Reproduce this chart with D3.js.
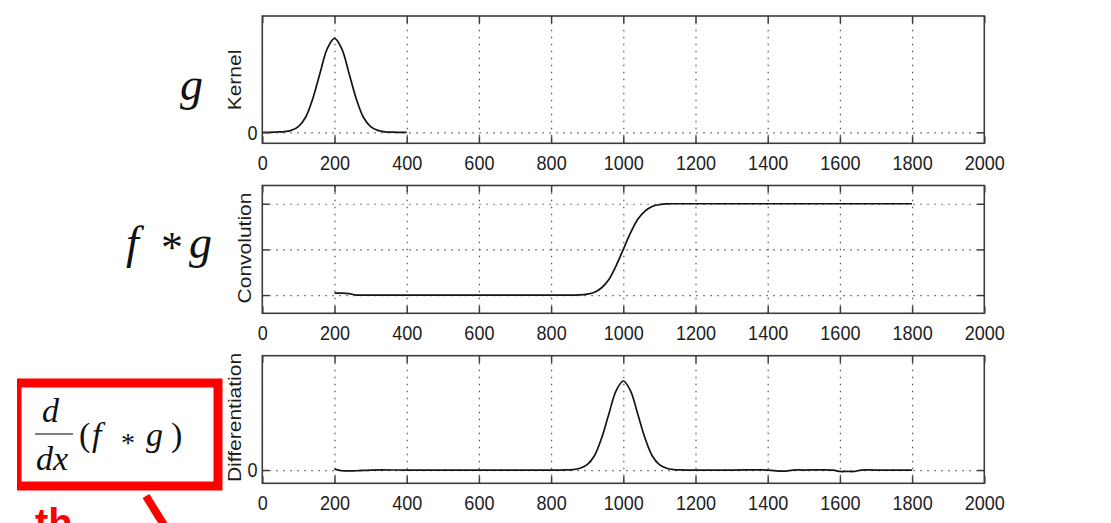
<!DOCTYPE html>
<html>
<head>
<meta charset="utf-8">
<script src="https://cdn.jsdelivr.net/npm/d3@7"></script>
<style>
  html, body { margin: 0; padding: 0; background: #fff; }
  svg { display: block; }
  .tick text { transform-box: fill-box; transform-origin: center; transform: scaleX(0.86); }
</style>
</head>
<body>
<svg id="chart" width="1111" height="523"></svg>
<script>
// ---------- data ----------
const xTicks = [0, 200, 400, 600, 800, 1000, 1200, 1400, 1600, 1800, 2000];

const kernelX = [0, 20, 40, 60, 80, 100, 120, 140, 160, 180, 200, 220, 240, 260, 280, 300, 320, 340, 360, 380, 400];
const kernelY = [0, 0, 0.003, 0.006, 0.02, 0.06, 0.16, 0.36, 0.63, 0.89, 1, 0.89, 0.63, 0.36, 0.16, 0.06, 0.02, 0.005, 0.001, 0, 0];

const convX = [200, 220, 240, 260, 300, 400, 500, 600, 700, 800, 820, 840, 860, 880, 900, 920, 940, 960, 980, 1000,
               1020, 1040, 1060, 1080, 1100, 1120, 1140, 1160, 1180, 1200, 1300, 1400, 1500, 1600, 1700, 1800];
const convY = [0.02, 0.02, 0.015, 0, 0, 0, 0, 0, 0, 0, 0, 0, 0, 0.002, 0.01, 0.03, 0.08, 0.17, 0.32, 0.5,
               0.68, 0.83, 0.92, 0.97, 0.99, 0.998, 1, 1, 1, 1, 1, 1, 1, 1, 1, 1];

const diffX = [200, 220, 260, 300, 400, 500, 600, 700, 800, 820, 840, 860, 880, 900, 920, 940, 960, 980, 1000,
               1020, 1040, 1060, 1080, 1100, 1120, 1140, 1160, 1180, 1200, 1300, 1400, 1430, 1450, 1470, 1500,
               1580, 1600, 1620, 1640, 1660, 1700, 1800];
const diffY = [0.01, -0.008, -0.008, 0, 0, 0, 0, 0, 0, 0, 0.001, 0.005, 0.02, 0.06, 0.16, 0.36, 0.63, 0.89, 1,
               0.89, 0.63, 0.36, 0.16, 0.06, 0.02, 0.005, 0.001, 0, 0, 0, 0, -0.012, -0.012, 0, 0,
               0, -0.016, -0.016, -0.016, 0, 0, 0];

const convYTicks = [0, 0.5, 1];
const zeroTick = [0];

// ---------- layout ----------
const svg = d3.select("#chart");
const x = d3.scaleLinear().domain([0, 2000]).range([262.3, 984.3]);

const panels = [
  { xs: kernelX, ys: kernelY, domain: [-0.117, 1.237], top: 16, bottom: 143.3,
    yTicks: zeroTick, showYLabels: true, label: "Kernel", labelX: 241, labelY: 80 },
  { xs: convX, ys: convY, domain: [-0.2, 1.2], top: 185.5, bottom: 313.3,
    yTicks: convYTicks, showYLabels: false, label: "Convolution", labelX: 251, labelY: 248 },
  { xs: diffX, ys: diffY, domain: [-0.149, 1.284], top: 355.7, bottom: 483.3,
    yTicks: zeroTick, showYLabels: true, label: "Differentiation", labelX: 241, labelY: 417.5 }
];

const axisColor = "#3c3c3c";
const textColor = "#1e1e1e";
const sansFont = "'Liberation Sans', Arial, sans-serif";
const serifFont = "'Liberation Serif', 'Times New Roman', serif";

panels.forEach(p => {
  const y = d3.scaleLinear().domain(p.domain).range([p.bottom, p.top]);
  const h = p.bottom - p.top;
  const x0 = x.range()[0], x1 = x.range()[1];
  const g = svg.append("g");

  // vertical grid
  const gx = g.append("g").attr("transform", `translate(0,${p.bottom})`)
    .call(d3.axisBottom(x).tickValues(xTicks.slice(1, -1)).tickSize(-h).tickFormat(""));
  gx.select(".domain").remove();
  gx.selectAll("line").attr("stroke", "#555").attr("stroke-width", 1.2).attr("stroke-dasharray", "1.5,5.5");

  // horizontal grid
  const gy = g.append("g").attr("transform", `translate(${x0},0)`)
    .call(d3.axisLeft(y).tickValues(p.yTicks).tickSize(-(x1 - x0)).tickFormat(""));
  gy.select(".domain").remove();
  gy.selectAll("line").attr("stroke", "#555").attr("stroke-width", 1.2).attr("stroke-dasharray", "1.5,5.5");

  // curve
  const line = d3.line().x(d => x(d[0])).y(d => y(d[1])).curve(d3.curveCatmullRom.alpha(0.5));
  g.append("path")
    .datum(p.xs.map((v, i) => [v, p.ys[i]]))
    .attr("d", line)
    .attr("fill", "none")
    .attr("stroke", "#141414")
    .attr("stroke-width", 1.7);

  // bottom axis (inward ticks + labels)
  const ab = g.append("g").attr("transform", `translate(0,${p.bottom})`)
    .call(d3.axisBottom(x).tickValues(xTicks).tickSizeInner(-7).tickSizeOuter(0).tickPadding(12).tickFormat(d3.format("d")));
  ab.select(".domain").remove();
  ab.selectAll("line").attr("stroke", axisColor).attr("stroke-width", 1.5);
  ab.selectAll("text").attr("fill", textColor).style("font-family", sansFont).style("font-size", "21px");

  // top axis ticks
  const at = g.append("g").attr("transform", `translate(0,${p.top})`)
    .call(d3.axisTop(x).tickValues(xTicks).tickSizeInner(-7).tickSizeOuter(0).tickFormat(""));
  at.select(".domain").remove();
  at.selectAll("line").attr("stroke", axisColor).attr("stroke-width", 1.5);

  // left axis
  const al = g.append("g").attr("transform", `translate(${x0},0)`)
    .call(d3.axisLeft(y).tickValues(p.yTicks).tickSizeInner(-7).tickSizeOuter(0).tickPadding(4)
      .tickFormat(p.showYLabels ? d3.format("d") : () => ""));
  al.select(".domain").remove();
  al.selectAll("line").attr("stroke", axisColor).attr("stroke-width", 1.5);
  al.selectAll("text").attr("fill", textColor).style("font-family", sansFont).style("font-size", "21px");

  // right axis ticks
  const ar = g.append("g").attr("transform", `translate(${x1},0)`)
    .call(d3.axisRight(y).tickValues(p.yTicks).tickSizeInner(-7).tickSizeOuter(0).tickFormat(""));
  ar.select(".domain").remove();
  ar.selectAll("line").attr("stroke", axisColor).attr("stroke-width", 1.5);

  // box
  g.append("rect")
    .attr("x", x0).attr("y", p.top).attr("width", x1 - x0).attr("height", h)
    .attr("fill", "none").attr("stroke", axisColor).attr("stroke-width", 1.6);

  // y label
  g.append("text")
    .attr("transform", `translate(${p.labelX},${p.labelY}) scale(0.86,1) rotate(-90)`)
    .attr("text-anchor", "middle")
    .attr("fill", textColor)
    .style("font-family", sansFont)
    .style("font-size", "21px")
    .text(p.label);
});

// ---------- left-hand math annotations ----------
const ann = svg.append("g").attr("fill", "#111").style("font-family", serifFont);

ann.append("text").attr("x", 180).attr("y", 100).style("font-size", "46px").style("font-style", "italic").text("g");

ann.append("text").attr("x", 126).attr("y", 258).style("font-size", "46px").style("font-style", "italic").text("f");
ann.append("text").attr("x", 161).attr("y", 262).style("font-size", "44px").text("*");
ann.append("text").attr("x", 189).attr("y", 258).style("font-size", "46px").style("font-style", "italic").text("g");

// red box
svg.append("rect")
  .attr("x", 17).attr("y", 383).attr("width", 201).attr("height", 103)
  .attr("fill", "none").attr("stroke", "#ff0000").attr("stroke-width", 9);
svg.append("rect").attr("x", 0).attr("y", 370).attr("width", 17).attr("height", 130).attr("fill", "#fff");

// d/dx (f * g)
ann.append("text").attr("x", 42).attr("y", 422).style("font-size", "34px").style("font-style", "italic").text("d");
svg.append("line").attr("x1", 35).attr("x2", 73).attr("y1", 434).attr("y2", 434)
  .attr("stroke", "#555").attr("stroke-width", 1.5);
ann.append("text").attr("x", 36).attr("y", 470).style("font-size", "34px").style("font-style", "italic").text("dx");
ann.append("text").attr("x", 79).attr("y", 446).style("font-size", "34px").text("(");
ann.append("text").attr("x", 92).attr("y", 446).style("font-size", "34px").style("font-style", "italic").text("f");
ann.append("text").attr("x", 121).attr("y", 452).style("font-size", "28px").text("*");
ann.append("text").attr("x", 146).attr("y", 446).style("font-size", "34px").style("font-style", "italic").text("g");
ann.append("text").attr("x", 171).attr("y", 446).style("font-size", "34px").text(")");

// red arrow fragment and cut red text at the bottom
svg.append("line").attr("x1", 146).attr("y1", 496).attr("x2", 164).attr("y2", 525)
  .attr("stroke", "#ff0000").attr("stroke-width", 8);
svg.append("text").attr("x", 35).attr("y", 537).attr("fill", "#ff0000")
  .style("font-family", sansFont).style("font-weight", "bold").style("font-size", "40px").text("th");
</script>
</body>
</html>
